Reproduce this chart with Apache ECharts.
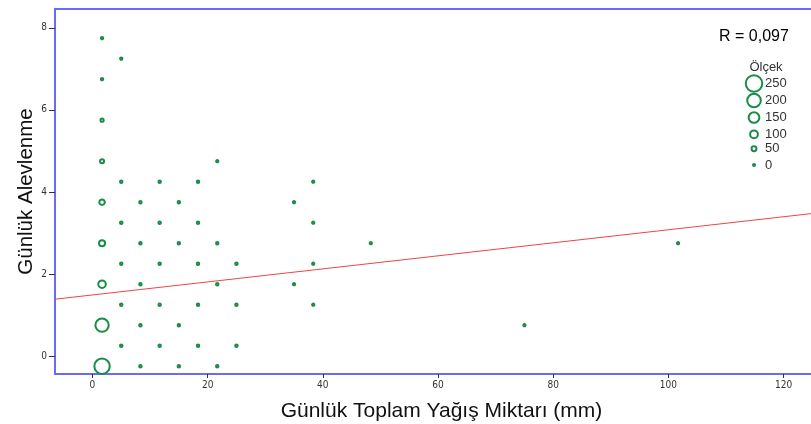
<!DOCTYPE html>
<html>
<head>
<meta charset="utf-8">
<script src="https://cdn.jsdelivr.net/npm/echarts@6/dist/echarts.min.js"></script>
<style>html,body{margin:0;padding:0;background:#fff}#c{width:811px;height:424px}</style>
</head>
<body>
<div id="c"></div>
<script>
// Scatter bins: x (mm), y (alevlenme), count
const pointX = [1.67,1.67,1.67,1.67,1.67,1.67,1.67,1.67,1.67,
  5,5,5,5,5,5,
  8.33,8.33,8.33,8.33,8.33,
  11.67,11.67,11.67,11.67,11.67,
  15,15,15,15,
  18.33,18.33,18.33,18.33,18.33,
  21.67,21.67,21.67,21.67,
  25,25,25,
  35,35,
  38.33,38.33,38.33,38.33,
  48.33,75,101.67];
const pointY = [7.75,6.75,5.75,4.75,3.75,2.75,1.75,0.75,-0.25,
  7.25,4.25,3.25,2.25,1.25,0.25,
  3.75,2.75,1.75,0.75,-0.25,
  4.25,3.25,2.25,1.25,0.25,
  3.75,2.75,0.75,-0.25,
  4.25,3.25,2.25,1.25,0.25,
  4.75,2.75,1.75,-0.25,
  2.25,1.25,0.25,
  3.75,1.75,
  4.25,3.25,2.25,1.25,
  2.75,0.75,2.75];
const pointCount = [5,5,20,35,60,70,95,195,230,
  5,8,10,8,8,10,
  8,8,8,8,8,
  8,8,8,8,8,
  8,8,8,8,
  8,8,8,8,8,
  5,8,8,8,
  8,8,8,
  5,5,
  5,5,5,5,
  5,5,5];
// Fit line endpoints
const fitX = [-6.5, 127.7];
const fitY = [1.384, 3.517];
const xTicks = [0,20,40,60,80,100,120];
const yTicks = [0,2,4,6,8];
const legendValues = [250,200,150,100,50,0];
const rText = 'R = 0,097';

const STROKE = '#1b8c47';
const BW = 2;
function sizeOf(v){ return 2 + 0.058*v; }

const scatterData = pointX.map((x,i)=>[x, pointY[i], pointCount[i]]);
const lineData = fitX.map((x,i)=>[x, fitY[i]]);

const chart = echarts.init(document.getElementById('c'), null, {renderer:'canvas'});
const FONT = '"Liberation Sans", Arial, sans-serif';
const NARROW = '"Liberation Sans Narrow", "DejaVu Sans Condensed", "Liberation Sans", sans-serif';

const graphics = [];
graphics.push({type:'text', left:719, top:29, style:{text:rText, font:'16px '+FONT, fill:'#000'}});
graphics.push({type:'text', x:766, y:67, style:{text:'Ölçek', font:'13px '+FONT, fill:'#333', align:'center', verticalAlign:'middle'}});
const legendY = [83.5,100.5,117.5,134.3,148.7,165];
legendValues.forEach((v,i)=>{
  graphics.push({type:'circle', shape:{cx:754, cy:legendY[i], r:sizeOf(v)/2}, style:{fill:'none', stroke:STROKE, lineWidth:BW}});
  graphics.push({type:'text', x:765, y:legendY[i], style:{text:String(v), font:'13px '+FONT, fill:'#333', verticalAlign:'middle'}});
});

chart.setOption({
  animation:false,
  backgroundColor:'#fff',
  grid:{left:55, top:9, width:773, height:365, show:true, borderColor:'#6a6aff', borderWidth:2, backgroundColor:'transparent', containLabel:false, outerBoundsMode:'none'},
  xAxis:{type:'value', min:-6.5, max:127.7,
    name:'Günlük Toplam Yağış Miktarı (mm)', nameLocation:'middle', nameGap:27, nameMoveOverlap:false,
    nameTextStyle:{fontSize:21, fontFamily:FONT, color:'#111'},
    axisLine:{show:false, onZero:false}, splitLine:{show:false},
    axisTick:{show:true, length:4, lineStyle:{color:'#333'}, customValues:xTicks},
    axisLabel:{fontSize:10, fontFamily:NARROW, color:'#333', margin:6, customValues:xTicks}},
  yAxis:{type:'value', min:-0.44, max:8.46,
    name:'Günlük Alevlenme', nameLocation:'middle', nameGap:18, nameMoveOverlap:false,
    nameTextStyle:{fontSize:20.5, fontFamily:FONT, color:'#111'},
    axisLine:{show:false, onZero:false}, splitLine:{show:false},
    axisTick:{show:true, length:6, lineStyle:{color:'#333'}, customValues:yTicks},
    axisLabel:{fontSize:10, fontFamily:NARROW, color:'#333', margin:8, customValues:yTicks}},
  series:[
    {type:'line', data:lineData, symbol:'none', silent:true,
      lineStyle:{color:'#ee4444', width:1}, z:1},
    {type:'scatter', data:scatterData, z:2,
      symbolSize:(d)=>sizeOf(d[2]),
      itemStyle:{color:'rgba(0,0,0,0)', borderColor:STROKE, borderWidth:BW, opacity:1}}
  ],
  graphic:graphics
});
</script>
</body>
</html>
